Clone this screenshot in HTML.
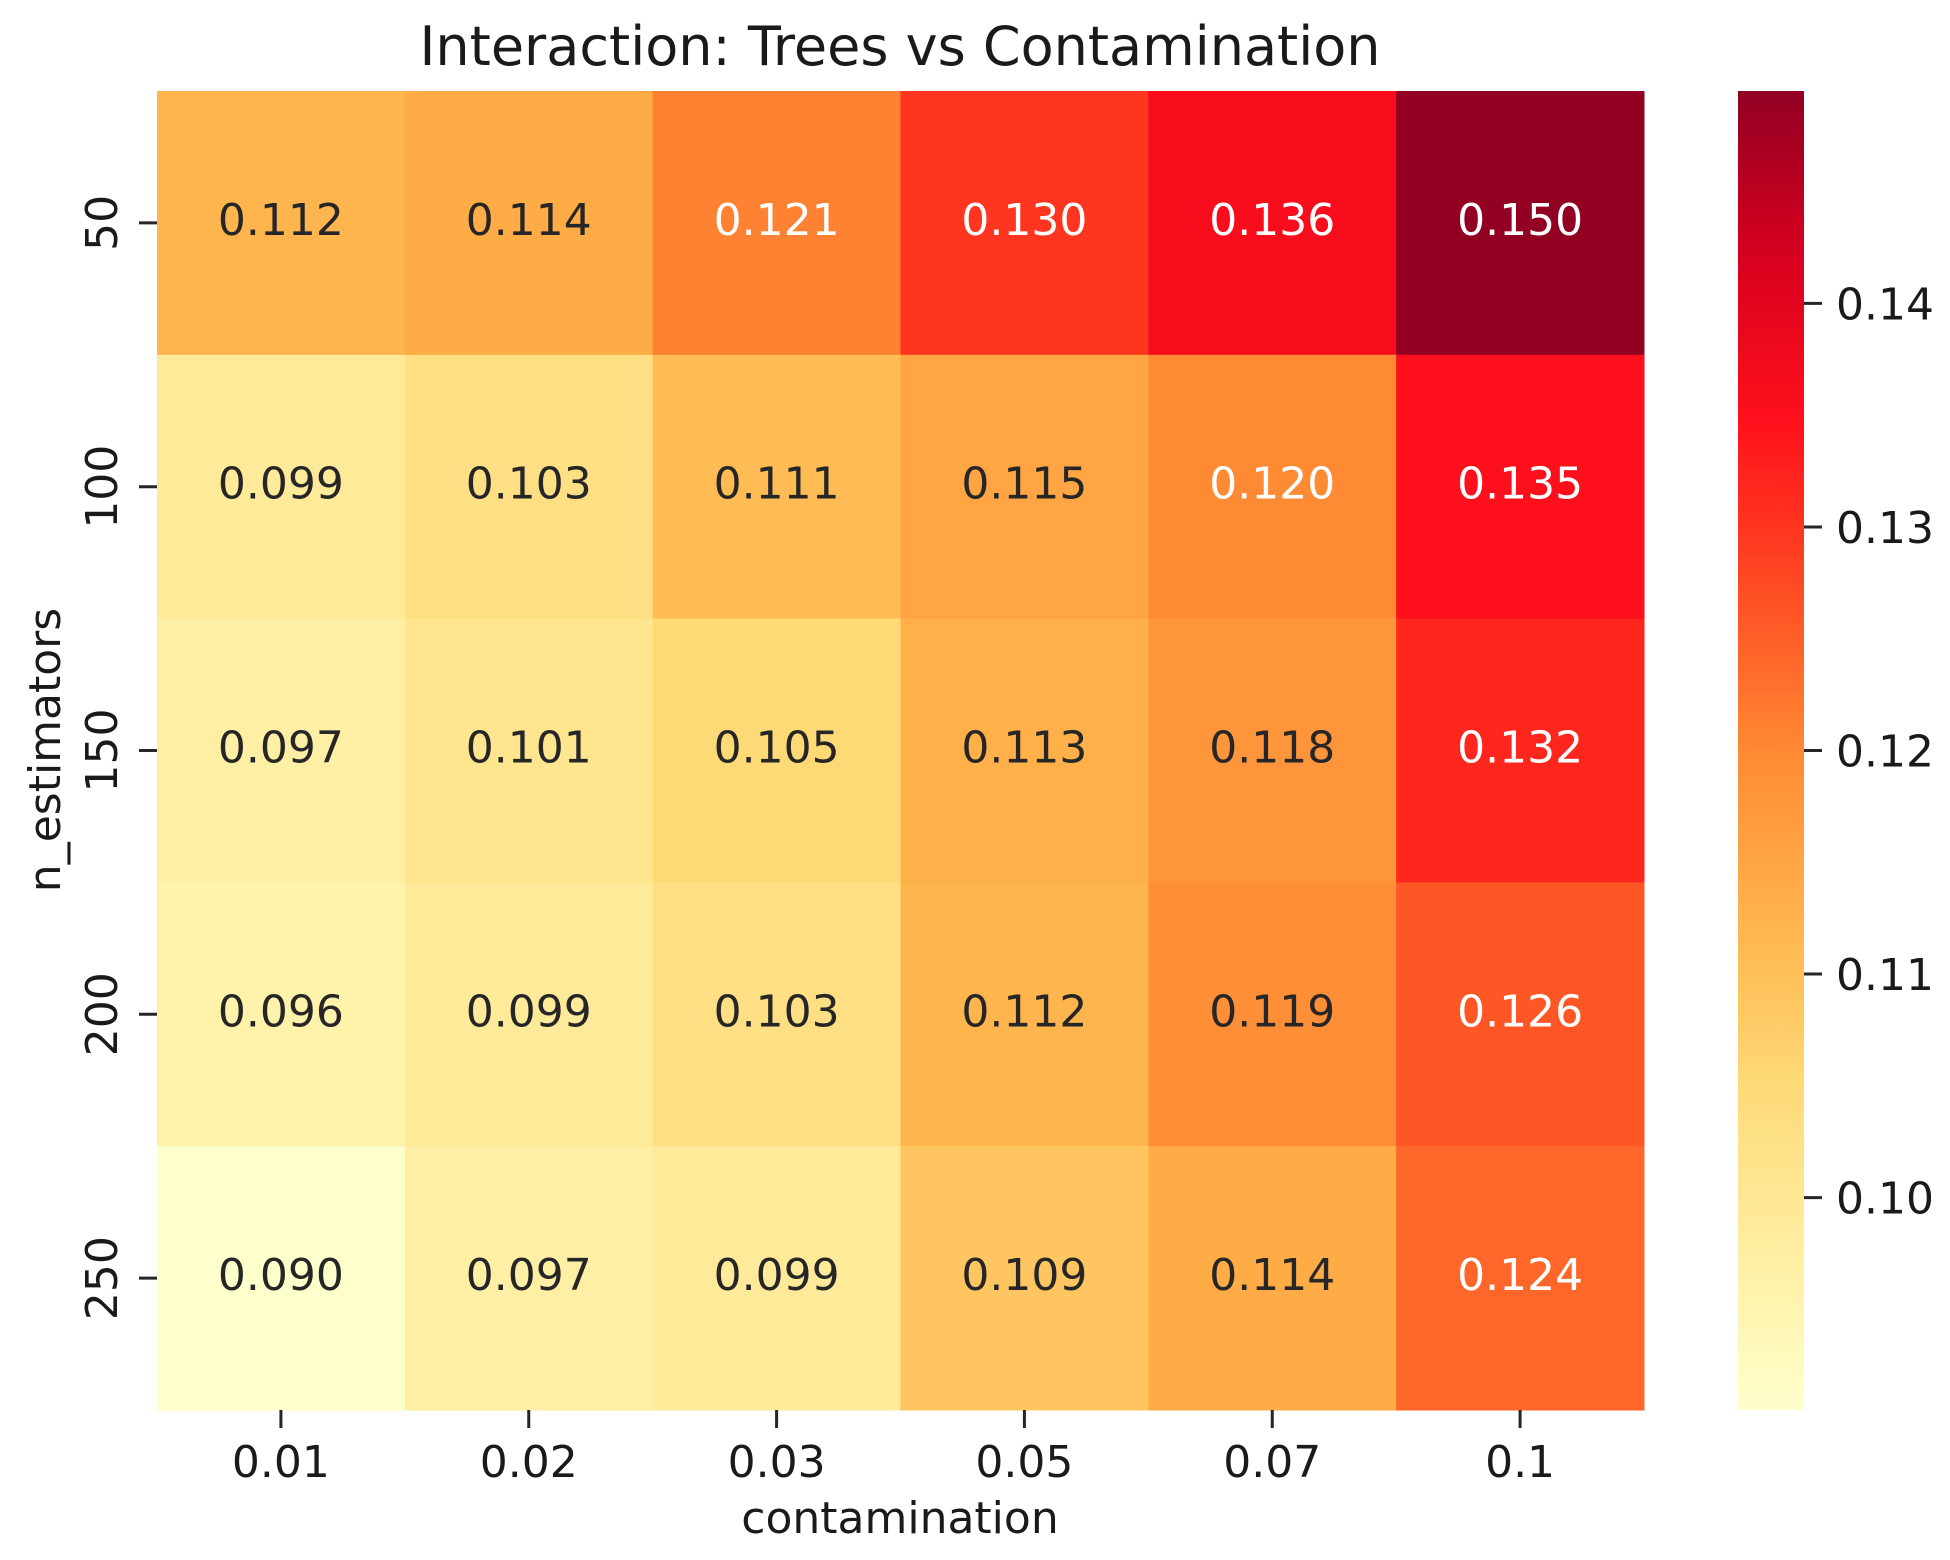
<!DOCTYPE html>
<html><head><meta charset="utf-8"><style>
html,body{margin:0;padding:0;background:#fff}
svg{display:block;font-family:"DejaVu Sans","Liberation Sans",sans-serif}
</style></head><body>
<svg id="chart" width="1950" height="1560" viewBox="0 0 1950 1560" xmlns="http://www.w3.org/2000/svg">
<defs><linearGradient id="cbgrad" x1="0" y1="1" x2="0" y2="0"></linearGradient></defs>
<text x="900" y="65" font-size="54" text-anchor="middle" fill="#1a1a1a">Interaction: Trees vs Contamination</text>
<g id="cells"></g>
<g id="axes"></g>
<text x="900" y="1533" font-size="44" text-anchor="middle" fill="#1a1a1a">contamination</text>
<text transform="translate(60,750) rotate(-90)" font-size="44" text-anchor="middle" fill="#1a1a1a">n_estimators</text>
<rect id="cbar" x="1738" y="91" width="66" height="1319" fill="url(#cbgrad)"></rect>
<g id="cbticks"></g>
</svg>
<script>
const xCategories = ["0.01","0.02","0.03","0.05","0.07","0.1"];
const yCategories = ["50","100","150","200","250"];
const row50  = [0.112,0.114,0.121,0.130,0.136,0.150];
const row100 = [0.099,0.103,0.111,0.115,0.120,0.135];
const row150 = [0.097,0.101,0.105,0.113,0.118,0.132];
const row200 = [0.096,0.099,0.103,0.112,0.119,0.126];
const row250 = [0.090,0.097,0.099,0.109,0.114,0.124];
const cbTicks = [0.10,0.11,0.12,0.13,0.14];
const vMin = 0.0905, vMax = 0.1495;

const rows=[row50,row100,row150,row200,row250];
const L=157,R=1644,T=91,B=1410;
const cw=(R-L)/xCategories.length, ch=(B-T)/yCategories.length;
const xPos=i=>L+cw*i, yPos=j=>T+ch*j;
const stops=["#ffffcc","#ffeda0","#fed976","#ffb24a","#ff8a34","#ff4a22","#ff101c","#d8001f","#920022"];
function hex(h){return [1,3,5].map(i=>parseInt(h.substr(i,2),16));}
function cmap(t){t=Math.max(0,Math.min(1,t));const p=t*(stops.length-1);const i=Math.min(Math.floor(p),stops.length-2);const f=p-i;const a=hex(stops[i]),b=hex(stops[i+1]);return a.map((v,k)=>Math.round(v+(b[k]-v)*f));}
function lum(c){const l=c.map(v=>{v/=255;return v<=0.03928?v/12.92:Math.pow((v+0.055)/1.055,2.4)});return 0.2126*l[0]+0.7152*l[1]+0.0722*l[2];}
const NS="http://www.w3.org/2000/svg";
function mk(tag,attrs,parent){const e=document.createElementNS(NS,tag);for(const k in attrs)e.setAttribute(k,attrs[k]);parent.appendChild(e);return e;}
const cells=document.getElementById('cells');
rows.forEach((row,j)=>{row.forEach((v,i)=>{
  const c=cmap((v-vMin)/(vMax-vMin));
  const r=mk('rect',{x:xPos(i),y:yPos(j),width:cw+0.5,height:ch+0.5,fill:`rgb(${c})`},cells);
  
  
  const t=mk('text',{x:xPos(i)+cw/2,y:yPos(j)+ch/2+12,'font-size':44,'text-anchor':'middle',fill:(v>=0.1195)?'#ffffff':'#262626'},cells);
  t.textContent=v.toFixed(3);
  
  
});});
const axes=document.getElementById('axes');
xCategories.forEach((lab,i)=>{
  const x=xPos(i)+cw/2;
  const tk=mk('line',{x1:x,x2:x,y1:B,y2:B+18,stroke:'#262626','stroke-width':3},axes);
  
  
  const t=mk('text',{x:x,y:1477,'font-size':44,'text-anchor':'middle',fill:'#1a1a1a'},axes);
  t.textContent=lab;
  
  
});
yCategories.forEach((lab,j)=>{
  const y=yPos(j)+ch/2;
  const tk=mk('line',{x1:L-18,x2:L,y1:y,y2:y,stroke:'#262626','stroke-width':3},axes);
  
  
  const t=mk('text',{transform:`translate(117,${y}) rotate(-90)`,'font-size':44,'text-anchor':'middle',fill:'#1a1a1a'},axes);
  t.textContent=lab;
  
  
});
const g=document.getElementById('cbgrad');
for(let k=0;k<=20;k++){const c=cmap(k/20);mk('stop',{offset:(k/20),'stop-color':`rgb(${c})`},g);}
const cbt=document.getElementById('cbticks');
const cbY=v=>B-(v-vMin)/(vMax-vMin)*(B-T);
cbTicks.forEach(v=>{
  const y=cbY(v);
  const tk=mk('line',{x1:1804,x2:1822,y1:y,y2:y,stroke:'#262626','stroke-width':3},cbt);
  
  
  const t=mk('text',{x:1836,y:y+16,'font-size':44,fill:'#1a1a1a'},cbt);
  t.textContent=v.toFixed(2);
  
  
});
</script>
</body></html>
